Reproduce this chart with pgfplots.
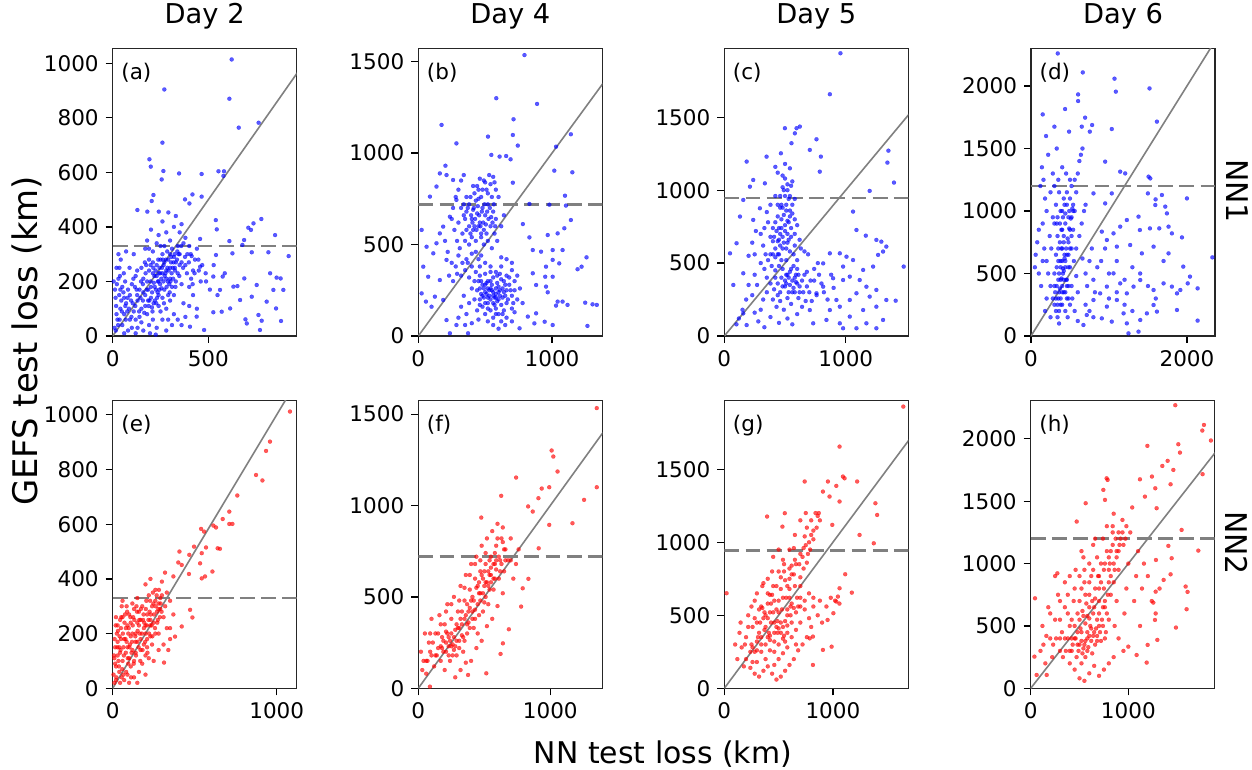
\documentclass[border=0pt]{standalone}
\usepackage{fontspec}
\setmainfont{DejaVu Sans}
\usepackage{pgfplots}
\pgfplotsset{compat=1.18}
\definecolor{mgray}{RGB}{128,128,128}
\pgfplotsset{
  panel/.style={
    scale only axis, width=92bp, height=143.85bp, anchor=south west,
    xmin=0, ymin=0,
    axis line style={line width=0.7bp, black!85},
    tick align=outside, tick pos=left,
    major tick length=3.5bp,
    every tick/.style={black, line width=0.6bp},
    tick label style={font=\fontsize{10.8}{12}\selectfont},
    /pgf/number format/assume math mode=true,
    /pgf/number format/1000 sep={},
    scaled ticks=false,
    title style={font=\fontsize{13.7}{16}\selectfont, anchor=base, yshift=6.6bp},
  },
  bdots/.style={only marks, mark=*, mark size=1.0bp, color=blue, mark options={line width=0.1bp, fill=blue, draw=blue, fill opacity=0.65, draw opacity=0.65}},
  rdots/.style={only marks, mark=*, mark size=1.0bp, color=red, mark options={line width=0.1bp, fill=red, draw=red, fill opacity=0.65, draw opacity=0.65}},
  diag/.style={mgray, line width=0.8bp},
  hline/.style={mgray, line width=1.3bp, dash pattern=on 7.4bp off 3.2bp},
}
\newcommand{\plab}[1]{\node[anchor=north west, inner sep=0pt, font=\fontsize{10.8}{12}\selectfont] at (rel axis cs:0.045,0.95) {#1};}
\begin{document}
\begin{tikzpicture}
\useasboundingbox (0,0) rectangle (626bp,385bp);
% ---------- (a) ----------
\begin{axis}[panel, at={(56.35bp,217bp)}, xmax=962, ymax=1055, xtick={0,500}, ytick={0,200,...,1000}, title={Day 2}]
\addplot[bdots] coordinates {
(622,1014) (270,904) (610,870) (659,764) (763,782) (260,709) (192,648) (199,621) (265,605) (256,574) (347,596) (465,594) (553,604) (582,604) (579,587) (213,517) (204,495) (417,519) (378,501) (465,511) (129,462) (181,456) (241,456) (291,453) (401,486) (539,425) (544,391) (709,397) (736,413) (777,429) (723,389) (849,370) (610,348) (687,352) (457,356) (727,307) (678,334) (814,307) (920,293) (626,303) (540,297) (413,293) (457,254) (486,230) (526,218) (575,218) (586,230) (631,181) (652,183) (688,211) (753,187) (823,230) (857,214) (878,211) (892,169) (840,169) (561,169) (614,101) (666,132) (727,144) (805,126) (854,101) (694,61) (701,46) (762,77) (770,22) (779,56) (880,55) (570,89) (526,87) (478,22) (404,34) (439,71)
(20,250) (30,210) (15,140) (40,100) (60,80) (25,60) (50,40) (80,20) (100,30) (70,120) (90,150) (110,90) (120,60) (130,130) (140,170) (150,100) (160,210) (170,150) (180,80) (190,40) (200,180) (210,230) (220,130) (230,260) (240,200) (250,90) (260,300) (270,170) (280,240) (290,280) (300,210) (310,320) (320,150) (330,270) (340,230) (350,300) (360,190) (370,120) (380,260) (400,330) (410,210) (420,150) (430,280) (440,100) (450,240) (190,280) (210,310) (170,320) (150,250) (120,220) (100,190) (80,170) (60,140) (40,170) (30,300) (70,310) (110,300) (250,330) (280,380) (300,350) (320,400) (260,420) (240,370) (200,390) (180,350) (330,440) (350,380) (370,340) (390,300) (210,60) (230,30) (160,20) (260,60) (280,100) (300,130) (320,80) (340,60) (360,40) (380,70) (400,110) (220,180) (240,150) (260,230) (270,270) (230,220) (200,140) (180,200) (160,160) (140,70) (120,10) (90,60) (60,10) (50,180) (20,80) (10,30) (300,250) (310,180) (290,150) (330,200) (350,260) (270,330) (250,280) (210,270) (190,240) (170,110) (150,50) (130,30) (240,110) (260,140) (290,60) (310,40) (280,20) (225,5) (195,10) (400,180) (420,240) (440,320) (460,200) (380,360) (360,410) (230,340) (320,290) (340,330) (360,270) (280,210) (300,300) (190,320) (175,260) (215,195) (245,250) (265,200) (285,310) (305,270) (325,250) (345,300) (255,175) (235,160) (205,105) (185,130) (165,85) (145,140) (125,170) (105,120) (85,100) (65,200) (45,130) (35,250)
(5,200) (12,170) (18,110) (28,40) (38,220) (48,90) (58,230) (68,60) (78,140) (88,250) (98,70) (108,210) (118,110) (128,240) (138,90) (148,200) (158,130) (168,270) (178,170) (188,110) (198,260) (208,90) (218,220) (228,120) (238,280) (248,190) (258,250) (268,120) (278,280) (288,200) (298,160) (308,230) (318,270) (328,180) (338,310) (348,220) (358,330) (368,250) (378,290) (388,230) (398,270) (408,300) (418,190) (428,230) (448,280) (468,260) (488,200) (508,170) (528,260) (548,150) (198,200) (212,250) (226,170) (242,230) (254,210) (266,260) (276,230) (286,250) (296,190) (306,290) (316,210) (326,240) (336,280) (224,240) (236,200) (248,230) (262,280) (272,220) (282,180) (292,240) (302,200) (314,250) (324,300) (158,190) (172,230) (186,170) (192,130) (206,160) (214,120) (232,140) (244,170) (128,150) (116,180) (96,130) (76,90) (66,110) (56,160) (36,60) (16,20) (22,190) (42,280) (34,150)
};
\addplot[diag] coordinates {(0,0) (3000,3000)};
\addplot[hline] coordinates {(0,330) (3000,330)};
\plab{(a)}
\end{axis}
% ---------- (b) ----------
\begin{axis}[panel, at={(209.15bp,217bp)}, xmax=1376, ymax=1573, xtick={0,1000}, ytick={0,500,1000,1500}, title={Day 4}]
\addplot[bdots] coordinates {
(794,1536) (583,1300) (888,1269) (174,1154) (712,1185) (707,1099) (521,1090) (285,1053) (744,1041) (1141,1103) (546,990) (608,981) (657,984) (690,966) (203,931) (1030,1035) (1017,904) (1152,895) (707,838) (1097,767) (1104,713) (831,722) (980,718) (1141,634) (1092,589) (968,552) (1042,561) (831,539) (782,612) (856,470) (918,461) (1005,470) (1079,470) (1005,416) (1054,397) (1191,365) (1221,379) (1258,430) (955,379) (856,343) (949,324) (1005,324) (955,270) (881,279) (968,239) (1042,188) (1079,188) (1116,170) (1030,166) (1248,182) (1303,173) (1335,170) (1265,55) (945,78) (1005,60) (868,69) (819,106) (881,124) (757,42)
(25,580) (62,488) (37,379) (74,324) (25,233) (57,188) (99,160) (124,215) (112,452) (136,507) (161,561) (87,762) (136,817) (161,889) (211,880) (260,853) (285,744) (236,652) (186,598) (211,416) (161,306) (186,197) (211,87) (285,60) (236,15) (372,15)
(300,620) (320,700) (340,660) (360,580) (380,720) (400,640) (410,690) (420,600) (440,670) (450,750) (460,620) (480,700) (500,660) (510,560) (520,720) (540,600) (560,680) (580,640) (600,760) (420,780) (440,820) (460,860) (480,800) (500,840) (520,780) (540,830) (560,870) (580,800) (400,540) (380,500) (350,520) (330,560) (310,480) (290,520) (270,580) (250,640) (260,700) (280,760) (300,800) (320,850) (340,880) (360,760) (470,540) (490,500) (520,520) (550,480) (570,560) (590,520) (620,600) (640,660) (430,460) (450,420) (470,440) (500,400) (360,420) (330,400) (300,440) (280,380) (250,400) (220,460) (200,520) (230,330) (260,300) (290,340) (320,330) (350,360) (380,320) (400,380) (430,350) (460,330)
(420,300) (440,250) (460,200) (480,280) (500,240) (520,180) (540,300) (560,220) (580,260) (600,200) (620,310) (640,240) (660,180) (680,280) (700,220) (480,160) (500,120) (520,80) (540,140) (560,100) (580,150) (600,120) (620,80) (640,140) (660,100) (700,150) (720,130) (740,200) (760,260) (780,180) (460,380) (500,340) (540,380) (580,350) (620,380) (660,330) (700,360) (720,300) (440,140) (420,200) (400,260) (380,180) (360,120) (340,220) (320,160) (300,100) (350,60) (400,70) (450,90) (560,60) (600,40) (650,60) (700,80) (520,260) (550,250) (570,210) (590,290) (610,250) (630,210) (650,280) (490,210) (470,230) (510,290) (530,220) (450,300) (620,430) (660,420) (700,400) (740,330) (400,450) (370,400)
(380,600) (395,660) (405,620) (415,700) (425,640) (435,580) (445,710) (455,660) (465,600) (475,680) (485,620) (495,720) (505,610) (515,680) (525,640) (535,700) (545,650) (555,620) (565,720) (575,600) (390,760) (410,820) (430,740) (450,800) (470,760) (490,850) (510,800) (530,880) (550,760) (570,840) (350,640) (370,700) (390,560) (410,580) (430,520) (450,600) (470,560) (490,580) (360,680) (340,720)
(480,220) (490,260) (500,180) (510,230) (520,300) (530,250) (540,200) (550,280) (560,240) (570,170) (580,230) (590,190) (600,270) (610,220) (620,170) (630,260) (640,300) (650,220) (660,250) (670,200) (500,280) (520,210) (540,260) (560,180) (580,210) (600,240) (460,260) (470,300) (540,350) (560,320) (590,330) (610,340) (680,320) (690,250) (720,250) (710,180) (460,170) (520,150) (580,120) (630,120)
};
\addplot[diag] coordinates {(0,0) (3000,3000)};
\addplot[hline] coordinates {(0,720) (3000,720)};
\plab{(b)}
\end{axis}
% ---------- (c) ----------
\begin{axis}[panel, at={(362.15bp,217bp)}, xmax=1515, ymax=1973, xtick={0,1000}, ytick={0,500,1000,1500}, title={Day 5}]
\addplot[bdots] coordinates {
(956,1939) (869,1658) (759,1349) (1351,1271) (1343,1189) (1397,1052) (1197,995) (1060,853) (1477,476) (1411,242)
(499,1425) (595,1425) (622,1436) (581,1390) (553,1322) (704,1276) (348,1230) (466,1253) (184,1196) (795,1230) (786,1127)
(1088,727) (1165,688) (1252,659) (1293,647) (1334,613) (1307,579) (1006,544) (951,567) (869,567) (814,498) (978,476) (1060,521) (1143,453) (1225,476) (1266,556) (1170,338) (1088,293) (1033,247) (951,201) (869,178) (841,110) (951,87) (1033,133) (1143,178) (1197,270) (1252,201) (1307,110) (1252,53) (1170,87) (1088,53) (978,53) (923,247) (814,338) (759,293) (704,178) (732,87) (978,384) (896,396) (1033,407) (1115,384) (1252,316) (1334,247)
(101,636) (47,567) (74,350) (156,430) (156,155) (184,75) (129,819) (156,933) (211,1024) (238,1070) (334,1047) (293,876) (238,796)
(300,700) (320,620) (340,560) (360,780) (380,680) (400,740) (420,600) (440,820) (460,700) (480,880) (500,760) (520,640) (540,820) (560,900) (580,700) (600,760) (620,660) (460,960) (480,1020) (500,1080) (520,1000) (540,1150) (560,1060) (580,940) (440,1120) (420,1160) (500,1180) (470,900) (510,860) (530,940) (550,1030) (350,850) (380,900) (420,960) (300,500) (330,460) (360,520) (390,480) (420,540) (450,560) (480,600) (510,520) (540,580) (570,560) (600,520) (630,600) (660,580) (690,560) (350,400) (380,360) (410,320) (440,280) (470,400) (500,340) (530,300) (560,380) (590,420) (620,340) (650,300) (680,440) (710,380) (740,460) (770,500) (400,250) (430,200) (460,240) (490,180) (520,260) (550,220) (580,300) (610,260) (640,200) (670,240) (350,300) (320,250) (300,180) (270,350) (250,420) (230,280) (200,350) (180,250) (150,180) (120,120) (100,80) (250,160) (280,100) (330,60) (380,130) (450,90) (520,120) (560,80) (600,150) (420,450) (450,480) (480,460) (510,420) (540,440) (570,480) (600,460) (380,560) (400,650) (440,650) (470,740) (520,700) (550,680) (580,620) (330,740) (250,560) (260,720) (230,640) (200,550)
(440,560) (460,620) (480,680) (500,720) (520,790) (540,860) (450,740) (470,800) (490,830) (510,900) (530,780) (550,740) (490,640) (510,600) (530,660) (470,520) (450,660) (430,720) (410,680) (400,560) (460,880) (500,960) (520,1040) (480,1100) (540,960) (560,840) (580,800) (420,780) (440,900) (490,1000)
(500,380) (520,420) (540,350) (560,300) (580,400) (600,360) (620,300) (640,380) (660,420) (680,340) (510,360) (530,400) (550,460) (570,330) (590,370) (610,420) (480,340) (460,300) (440,360) (420,400) (700,300) (720,240) (740,380) (760,280) (780,420) (800,360) (820,300) (850,250) (880,420) (900,330)
};
\addplot[diag] coordinates {(0,0) (3000,3000)};
\addplot[hline] coordinates {(0,945) (3000,945)};
\plab{(c)}
\end{axis}
% ---------- (d) ----------
\begin{axis}[panel, at={(515.5bp,217bp)}, xmax=2360, ymax=2302, xtick={0,2000}, ytick={0,500,...,2000}, title={Day 6}]
\addplot[bdots] coordinates {
(343,2261) (664,2109) (1071,2059) (1088,1955) (1520,1981) (604,1933) (604,1880) (437,1816) (150,1773) (694,1747) (1615,1715) (784,1688) (300,1675) (651,1675) (1036,1656) (754,1635) (193,1600) (488,1635) (951,1395) (1144,1315) (1208,1301) (1508,1275) (1530,1261) (2000,1101) (2326,629) (2137,123)
(801,1141) (1036,1141) (951,1061) (1499,1141) (1598,1093) (1594,1048) (1679,1128) (1722,1035) (1743,981) (1379,955) (1229,928) (1396,848) (1525,861) (1645,861) (1764,875) (1807,821) (1936,789) (1144,875) (1058,821) (908,835) (973,768) (1101,715) (1272,728) (1422,661) (1572,715) (1764,661) (1953,555) (2039,475) (2010,421) (2137,381) (1872,341) (1915,368) (1807,395) (1700,421) (1572,368) (1401,448) (1315,395) (1229,341) (1144,421) (1058,501) (973,395) (887,341) (801,288) (973,235) (1101,288) (1187,181) (1229,101) (1250,21) (1379,35) (1401,128) (1486,181) (1572,248) (1615,195) (1872,208) (1036,115) (908,141) (715,168) (672,88)
(250,400) (280,300) (300,500) (320,650) (340,800) (360,350) (380,450) (400,600) (420,750) (440,900) (460,300) (480,400) (500,550) (520,700) (540,850) (560,1000) (580,480) (600,350) (300,900) (320,1050) (340,950) (360,1150) (380,1000) (400,850) (420,1100) (440,980) (460,1050) (480,950) (500,1100) (520,1200) (540,1050) (560,1250) (580,1150) (600,1300) (620,1400) (640,1450) (660,1500) (200,1000) (180,1100) (160,1250) (140,1350) (120,1200) (100,850) (80,750) (60,650) (50,550) (150,900) (170,700) (200,600) (220,500) (240,800) (260,700) (280,950) (300,250) (320,200) (340,150) (360,100) (400,250) (420,350) (450,450) (480,650) (500,250) (520,400) (550,600) (580,700) (620,800) (650,900) (680,1000) (700,1050) (660,620) (700,500) (720,400) (750,600) (780,700) (800,450) (820,350) (850,550) (250,1150) (280,1300) (300,1200) (350,1250) (400,1350) (450,1300) (500,1250) (220,1450) (330,1500) (200,300) (180,200) (250,150) (380,550) (410,500) (430,650) (390,700) (370,900) (350,600) (330,400) (440,200) (470,150) (530,300) (560,200) (100,500) (130,400) (150,600) (700,250) (750,200) (800,150) (600,120)
(350,300) (370,380) (390,460) (410,540) (430,620) (450,700) (470,780) (490,860) (510,940) (530,1020) (360,500) (380,600) (400,700) (420,800) (440,550) (460,650) (480,750) (500,850) (520,950) (540,1000) (380,300) (400,400) (420,520) (440,600) (460,450) (480,550) (500,700) (520,800) (350,700) (330,900) (400,1000) (430,1050) (460,1150) (490,1000) (310,350) (330,550) (350,450) (370,750) (390,850) (410,950) (300,400) (320,300) (340,250) (360,200) (380,250) (400,350) (420,450) (440,350) (460,400) (480,300)
(900,600) (950,700) (1000,500) (1100,600) (1200,450) (1300,550) (1400,500) (1500,400) (1600,300) (1700,600) (1200,250) (1300,200) (1100,350) (1000,300)
};
\addplot[diag] coordinates {(0,0) (3000,3000)};
\addplot[hline] coordinates {(0,1200) (3000,1200)};
\plab{(d)}
\end{axis}
% ---------- (e) ----------
\begin{axis}[panel, at={(56.35bp,40.85bp)}, xmax=1122, ymax=1052, xtick={0,1000}, ytick={0,200,...,1000}]
\addplot[rdots] coordinates {
(1081,1012) (959,902) (935,868) (874,780) (913,760) (760,705) (711,646) (730,601) (711,601) (671,619) (614,595) (630,588) (539,583) (557,573) (640,512) (654,510) (569,515) (543,494) (496,518) (467,488) (407,500) (421,451) (400,460) (533,457) (465,418) (543,402) (563,409) (608,427) (319,423) (370,409) (472,287) (486,259) (421,226) (350,220) (380,189) (339,140) (313,94)
(10,20) (20,80) (15,150) (25,200) (30,120) (40,60) (45,250) (50,180) (60,100) (70,30) (80,220) (90,150) (100,270) (110,80) (120,200) (130,290) (140,130) (150,240) (160,60) (170,180) (180,300) (190,220) (200,120) (210,270) (220,340) (230,190) (240,300) (250,240) (260,360) (270,280) (280,200) (290,330) (300,390) (310,260) (320,300) (330,350) (350,320) (370,270) (60,260) (70,180) (80,130) (90,50) (100,20) (110,240) (120,140) (130,40) (140,200) (150,170) (160,280) (170,250) (180,90) (190,160) (200,230) (210,180) (220,110) (230,250) (240,160) (260,200) (280,310) (300,340) (120,310) (150,330) (200,380) (230,400) (260,320) (60,320) (90,230) (40,150) (20,260) (35,100) (55,40) (75,270) (105,160) (125,260) (145,300) (165,200) (185,250) (205,320) (225,280) (245,350) (275,250) (290,290) (330,220) (350,180) (310,160) (280,140) (250,100) (200,50) (150,20) (100,110) (50,220) (30,170) (10,110) (130,100) (170,140) (200,200) (230,230) (210,150) (160,230) (140,170) (110,190) (95,200) (85,170) (65,150) (45,130)
(5,50) (8,120) (12,180) (18,230) (22,40) (28,150) (32,210) (38,80) (42,190) (48,140) (52,260) (58,70) (62,200) (68,120) (72,240) (78,180) (82,60) (88,280) (92,110) (98,220) (102,150) (108,260) (112,40) (118,170) (122,230) (128,90) (132,250) (138,190) (142,120) (148,280) (152,210) (158,150) (162,250) (168,100) (172,290) (178,200) (182,140) (188,270) (192,240) (198,170) (202,290) (208,230) (212,130) (218,250) (222,200) (228,320) (232,270) (238,230) (242,190) (248,310) (252,270) (258,220) (262,300) (268,340) (272,240) (278,290) (282,360) (288,260) (292,310) (298,280) (30,230) (55,300) (85,300) (20,30) (15,90) (45,20) (65,50) (95,90) (115,130)
};
\addplot[diag] coordinates {(0,0) (3000,3000)};
\addplot[hline] coordinates {(0,330) (3000,330)};
\plab{(e)}
\end{axis}
% ---------- (f) ----------
\begin{axis}[panel, at={(209.15bp,40.85bp)}, xmax=1394, ymax=1574, xtick={0,1000}, ytick={0,500,1000,1500}]
\addplot[rdots] coordinates {
(1352,1533) (1010,1301) (1023,1268) (1055,1186) (741,1153) (1352,1100) (935,1093) (992,1100) (1256,1031) (910,1040) (832,995) (867,967) (628,1053) (477,934) (1168,903) (992,894) (912,766) (834,599) (791,547) (779,447) (686,323) (641,246) (623,188) (515,82) (377,73) (88,9)
(20,200) (40,150) (50,300) (60,80) (80,250) (100,180) (100,380) (120,120) (130,300) (150,220) (160,400) (170,150) (180,280) (200,350) (200,100) (210,200) (220,460) (230,280) (240,150) (250,380) (260,240) (270,500) (280,320) (290,180) (300,420) (310,260) (320,560) (330,350) (340,200) (350,480) (360,620) (370,300) (380,420) (390,540) (400,680) (410,380) (420,480) (430,600) (440,720) (450,300) (460,520) (470,640) (480,780) (490,420) (500,560) (510,680) (520,820) (530,460) (540,620) (550,720) (560,860) (570,540) (580,680) (590,780) (600,900) (610,600) (620,700) (630,820) (640,880) (650,640) (660,760) (680,700) (700,820) (720,600) (740,680) (760,760) (560,380) (600,450) (640,520) (520,340) (480,260) (440,220) (400,150) (360,140) (320,100) (280,60) (250,460) (210,420) (170,350) (140,180) (90,300) (70,150) (30,100) (180,220) (220,300) (260,180) (300,330) (340,280) (380,360) (420,330) (460,400) (500,470) (540,540) (580,600) (620,640) (660,700) (700,700) (470,700) (430,680) (390,620) (350,550) (310,480) (500,640) (540,700) (580,740) (520,580) (460,580) (600,820) (640,800)
(60,150) (90,200) (110,250) (130,180) (150,300) (170,230) (190,260) (210,310) (230,230) (250,300) (270,280) (290,350) (310,330) (330,420) (350,380) (370,460) (390,440) (410,500) (430,430) (450,560) (470,520) (490,600) (510,580) (530,640) (550,620) (570,680) (590,650) (610,720) (630,680) (650,760) (190,200) (210,250) (230,180) (250,230) (270,210) (290,260) (310,220) (330,290) (350,260) (370,350) (390,330) (410,420) (430,380) (450,460) (470,480) (490,520) (510,500) (530,560) (550,580) (570,600) (590,700) (510,740) (550,660) (480,620) (440,550) (400,480) (360,400) (320,380) (280,230) (240,260)
};
\addplot[diag] coordinates {(0,0) (3000,3000)};
\addplot[hline] coordinates {(0,720) (3000,720)};
\plab{(f)}
\end{axis}
% ---------- (g) ----------
\begin{axis}[panel, at={(362.15bp,40.85bp)}, xmax=1694, ymax=1970, xtick={0,1000}, ytick={0,500,1000,1500}]
\addplot[rdots] coordinates {
(1648,1929) (1061,1655) (740,1416) (1092,1450) (1107,1438) (1223,1416) (954,1416) (908,1347) (1031,1386) (969,1313) (1061,1279) (1391,1267) (1407,1187) (394,1176) (557,1199) (994,1119) (1245,1050) (1376,993) (535,1107) (1113,781) (1174,655) (1061,685) (1046,628) (1031,594) (1004,514) (951,468) (988,285) (908,263) (816,354) (786,342) (816,160) (21,651)
(100,300) (120,200) (150,450) (180,150) (200,350) (220,500) (240,250) (260,420) (280,600) (300,180) (320,380) (340,560) (360,720) (380,300) (400,480) (420,640) (440,800) (460,250) (480,420) (500,600) (520,760) (540,880) (560,320) (580,500) (600,680) (620,840) (640,960) (660,400) (680,560) (700,760) (720,900) (740,1040) (760,1100) (780,1000) (800,1150) (820,1080) (840,1200) (860,1180) (880,1150) (700,620) (740,540) (780,480) (820,560) (860,500) (900,450) (940,560) (980,620) (1020,600) (1060,580) (880,600) (800,420) (760,350) (720,300) (680,260) (640,200) (600,160) (560,120) (520,80) (480,60) (440,100) (400,150) (360,120) (320,80) (280,100) (240,140) (200,200) (160,280) (140,380) (260,280) (300,320) (340,250) (380,200) (420,330) (460,380) (500,300) (540,420) (580,380) (620,450) (660,300) (700,450) (330,450) (370,520) (410,380) (450,520) (490,460) (530,540) (570,620) (610,560) (650,700) (690,850) (730,960) (770,920) (640,780) (600,820) (560,740) (520,680) (480,700) (440,640) (400,580) (360,480) (320,540) (280,480) (250,560) (220,420) (190,300) (420,260) (460,160) (500,200) (540,240) (580,280) (620,350) (300,650) (350,700) (400,750) (450,900) (500,950) (550,800) (600,950) (650,1050) (700,1150) (750,1200)
(250,300) (280,250) (310,350) (340,300) (370,400) (400,350) (430,450) (460,320) (490,380) (520,450) (550,360) (580,430) (610,500) (640,550) (670,620) (700,700) (730,820) (760,860) (790,950) (820,1020) (850,1100) (870,1200) (300,450) (350,550) (400,650) (450,700) (500,800) (550,850) (600,750) (650,880) (700,920) (750,980) (800,1050) (380,420) (420,520) (460,600) (500,520) (540,620) (580,700) (620,780) (660,850) (420,360) (460,450) (500,410) (540,340) (580,540) (620,580) (660,520) (700,560) (740,600) (780,650) (820,620) (260,180) (300,260) (340,350) (380,500) (430,580) (480,540) (520,380) (560,460) (600,620)
};
\addplot[diag] coordinates {(0,0) (3000,3000)};
\addplot[hline] coordinates {(0,945) (3000,945)};
\plab{(g)}
\end{axis}
% ---------- (h) ----------
\begin{axis}[panel, at={(515.35bp,40.85bp)}, xmax=1885, ymax=2307, xtick={0,1000}, ytick={0,500,...,2000}]
\addplot[rdots] coordinates {
(1481,2270) (1775,2112) (1758,2067) (1846,1987) (1512,1957) (1195,1944) (1529,1890) (1403,1824) (1348,1783) (1461,1751) (1761,1717) (1242,1698) (1433,1636) (1119,1676) (1276,1604) (1170,1537) (1290,1444) (788,1671) (778,1684) (744,1591) (761,1511) (563,1484) (1546,1270) (1717,1104) (1410,1142) (1444,1043) (1587,816) (1607,773) (1597,634) (1488,487) (1297,388) (1198,348) (1188,206) (1256,687) (1273,548) (1283,1029) (1280,775) (1362,869) (1433,914) (1085,267) (1000,334) (471,1337) (44,722) (38,254) (61,107) (164,107) (273,922)
(100,300) (120,500) (150,200) (180,650) (200,400) (220,250) (250,550) (280,750) (300,300) (320,450) (350,850) (380,600) (400,200) (420,400) (440,700) (460,950) (480,350) (500,550) (520,800) (540,1050) (560,250) (580,450) (600,650) (620,900) (640,1150) (660,350) (680,550) (700,800) (720,1000) (740,1200) (760,400) (780,600) (800,850) (820,1100) (840,1300) (860,500) (880,700) (900,950) (920,1200) (940,1350) (960,600) (980,800) (1000,1000) (1020,1250) (1040,1450) (1060,700) (1080,900) (1100,1100) (1120,500) (1140,800) (1160,1000) (1200,900) (1240,700) (1280,600) (1320,800) (900,400) (950,300) (850,250) (800,200) (750,150) (700,100) (650,180) (600,120) (550,60) (500,80) (450,150) (400,500) (450,400) (480,450) (520,380) (540,320) (560,520) (600,420) (620,480) (640,600) (680,420) (700,500) (720,380) (740,650) (760,700) (600,850) (640,950) (680,1050) (700,900) (760,1000) (800,1050) (840,1150) (880,1100) (900,1250) (950,1150) (980,1300) (560,750) (500,700) (450,800) (400,900) (380,750) (350,650) (300,550) (260,400) (230,350) (200,600) (160,420) (130,350) (420,300) (470,250) (520,200) (580,300) (630,280) (530,620) (580,580) (660,720) (820,750) (860,950) (780,1300) (850,1400) (550,950) (520,1100) (600,1000) (660,1200) (350,400) (300,700) (250,900)
(400,300) (430,350) (460,400) (490,300) (520,450) (550,350) (580,400) (610,500) (640,420) (670,480) (700,600) (730,550) (760,650) (790,750) (820,900) (850,1000) (880,1050) (910,1150) (940,1250) (970,1200) (450,500) (480,600) (510,480) (540,580) (570,680) (600,560) (630,700) (660,800) (690,900) (720,850) (750,950) (780,1100) (810,1000) (840,1250) (870,1200) (500,350) (530,280) (560,380) (590,330) (620,380) (650,450) (680,380) (710,450) (740,500) (770,450) (800,550) (500,900) (550,850) (600,750) (650,650) (700,700) (750,800) (800,950) (850,850) (900,1100) (380,400) (420,550) (360,300) (330,250) (300,400)
};
\addplot[diag] coordinates {(0,0) (3000,3000)};
\addplot[hline] coordinates {(0,1200) (3000,1200)};
\plab{(h)}
\end{axis}
% ---------- shared labels ----------
\node[rotate=90, anchor=base, inner sep=0pt, font=\fontsize{17}{20}\selectfont] at (18.5bp,214.5bp) {GEFS test loss (km)};
\node[anchor=base, inner sep=0pt, font=\fontsize{15}{18}\selectfont] at (331.5bp,3.5bp) {NN test loss (km)};
\node[rotate=-90, inner sep=0pt, font=\fontsize{15}{18}\selectfont] at (618.5bp,289.5bp) {NN1};
\node[rotate=-90, inner sep=0pt, font=\fontsize{15}{18}\selectfont] at (618.5bp,113.5bp) {NN2};
\end{tikzpicture}
\end{document}
